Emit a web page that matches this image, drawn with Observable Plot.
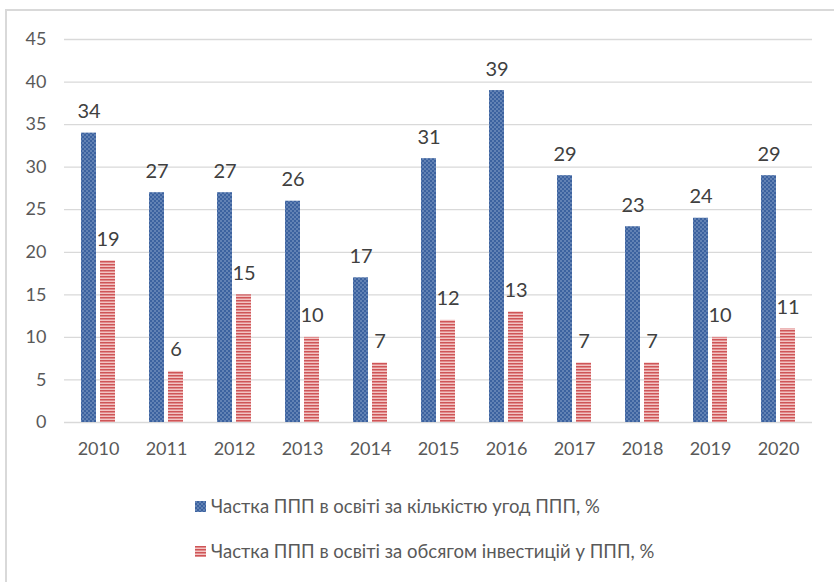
<!DOCTYPE html>
<html>
<head>
<meta charset="utf-8">
<script src="https://cdn.jsdelivr.net/npm/d3@7"></script>
<script src="https://cdn.jsdelivr.net/npm/@observablehq/plot@0.6"></script>
<style>
  html, body { margin: 0; padding: 0; background: #fff; }
  body { width: 834px; height: 582px; position: relative; overflow: hidden; font-family: Lato, "Open Sans", sans-serif; }
  #frame { position: absolute; left: 5px; top: 9px; width: 860px; height: 620px; border: 2px solid #d9d9d9; box-sizing: border-box; }
  #chart { position: absolute; left: 0; top: 0; }
  .legend { position: absolute; left: 195px; font-size: 18.5px; color: #595959; display: flex; align-items: center; white-space: nowrap; }
  .legend svg { margin-right: 5px; }
</style>
</head>
<body>
<div id="frame"></div>
<div id="chart"></div>
<div class="legend" id="lg1" style="top:495px;"></div>
<div class="legend" id="lg2" style="top:540px;"></div>
<script>
const years = ["2010","2011","2012","2013","2014","2015","2016","2017","2018","2019","2020"];
const seriesNames = ["Частка ППП в освіті за кількістю угод ППП, %", "Частка ППП в освіті за обсягом інвестицій  у ППП, %"];
const dealsShare = [34, 27, 27, 26, 17, 31, 39, 29, 23, 24, 29];
const investShare = [19, 6, 15, 10, 7, 12, 13, 7, 7, 10, 11];
const yTicks = [0, 5, 10, 15, 20, 25, 30, 35, 40, 45];

const data = [];
years.forEach((y, i) => {
  data.push({year: y, series: "a", value: dealsShare[i]});
  data.push({year: y, series: "b", value: investShare[i]});
});

const fills = {a: "url(#dotsPat)", b: "url(#stripesPat)"};

const chart = Plot.plot({
  width: 834,
  height: 475,
  marginLeft: 60,
  marginRight: 19,
  marginTop: 39,
  marginBottom: 53,
  style: {fontSize: "18px", fontFamily: "Lato, 'Open Sans', sans-serif", color: "#595959", background: "transparent"},
  fx: {domain: years, padding: 0, axis: "bottom", tickSize: 0, tickPadding: 20, label: null},
  x: {domain: ["a", "b"], paddingInner: 0.2, paddingOuter: 0.815, axis: null},
  y: {domain: [0, 45], ticks: yTicks, tickSize: 0, tickPadding: 18, label: null, grid: false},
  marks: [
    Plot.ruleY(yTicks, {stroke: "#d9d9d9", strokeWidth: 1.3, strokeOpacity: 1}),
    Plot.barY(data, {fx: "year", x: "series", y: "value", fill: d => fills[d.series]}),
    Plot.text(data, {fx: "year", x: "series", y: "value", text: d => String(d.value), lineAnchor: "bottom", dy: -15, fill: "#404040", fontSize: 20})
  ]
});

const svgNS = "http://www.w3.org/2000/svg";
const defs = document.createElementNS(svgNS, "defs");
defs.innerHTML = `
  <pattern id="dotsPat" width="4" height="4" patternUnits="userSpaceOnUse">
    <rect width="4" height="4" fill="#3c629f"/>
    <rect x="0.5" y="0.5" width="1" height="1" fill="#d4e0f2"/>
    <rect x="2.5" y="2.5" width="1" height="1" fill="#d4e0f2"/>
  </pattern>
  <pattern id="stripesPat" width="4" height="3" patternUnits="userSpaceOnUse">
    <rect width="4" height="3" fill="#f2c4c3"/>
    <rect y="0" width="4" height="1.5" fill="#cf5557"/>
  </pattern>`;
chart.insertBefore(defs, chart.firstChild);
document.getElementById("chart").appendChild(chart);

function legendItem(id, fill, name) {
  const el = document.getElementById(id);
  el.innerHTML = `<svg width="11" height="11"><defs>${defs.innerHTML.replace(/id="/g, 'id="lg_' + id + '_')}</defs><rect width="11" height="11" fill="${fill.replace('#', '#lg_' + id + '_')}"/></svg><span>${name}</span>`;
}
legendItem("lg1", fills.a, seriesNames[0]);
legendItem("lg2", fills.b, seriesNames[1]);
</script>
</body>
</html>
